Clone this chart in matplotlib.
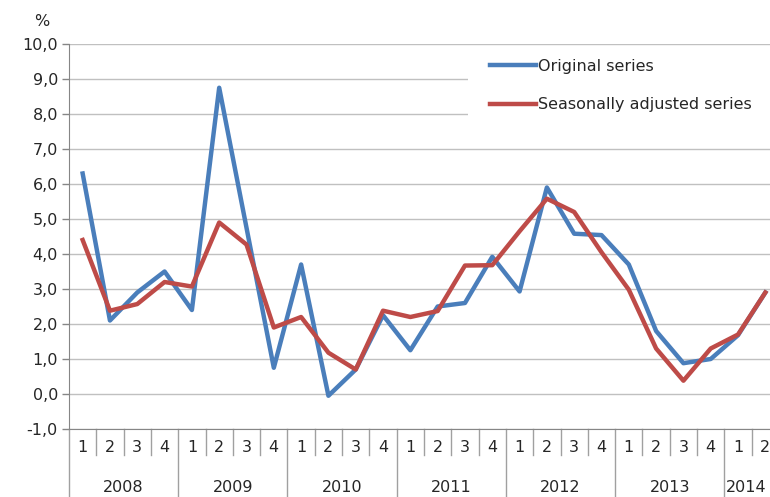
import numpy as np
import matplotlib.pyplot as plt
import matplotlib.transforms as mtransforms
from matplotlib.patches import Rectangle

# Quarterly data 2008Q1 - 2014Q2
years = ['2008', '2009', '2010', '2011', '2012', '2013', '2014']
quarters = [1, 2, 3, 4] * 6 + [1, 2]
original = [6.3, 2.1, 2.9, 3.5,
            2.4, 8.75, 4.75, 0.75,
            3.7, -0.05, 0.7, 2.25,
            1.25, 2.5, 2.6, 3.92,
            2.93, 5.9, 4.58, 4.54,
            3.7, 1.8, 0.88, 1.0,
            1.68, 2.9]
adjusted = [4.4, 2.38, 2.57, 3.2,
            3.07, 4.9, 4.27, 1.9,
            2.2, 1.18, 0.7, 2.38,
            2.2, 2.37, 3.67, 3.68,
            4.65, 5.58, 5.2, 4.05,
            2.98, 1.3, 0.38, 1.3,
            1.7, 2.9]
yticks = np.arange(-1, 10.5, 1.0)

txt_color = '#262626'
fs = 11.5

fig = plt.figure(figsize=(7.7, 4.97), dpi=100)
ax = fig.add_axes([69 / 770, 68 / 497, 710 / 770, 385 / 497])

x = np.arange(len(original))
ax.plot(x, original, color='#4A7EBB', lw=3.2, label='Original series', zorder=3)
ax.plot(x, adjusted, color='#BE4B48', lw=3.2, label='Seasonally adjusted series', zorder=3)

ax.set_xlim(-0.5, len(x) - 0.5)
ax.set_ylim(-1, 10)
ax.set_yticks(yticks)
ax.set_yticklabels([f'{v:.1f}'.replace('.', ',') for v in yticks], fontsize=fs, color=txt_color)
ax.yaxis.grid(True, color='#C0C0C0', lw=1)
ax.set_axisbelow(True)
ax.set_xticks([])
ax.tick_params(axis='y', length=5, color='#868686', width=1, pad=3)

for s in ['top', 'right']:
    ax.spines[s].set_visible(False)
ax.spines['left'].set_color('#868686')
ax.spines['bottom'].set_color('#868686')

# two-level category axis
trans = mtransforms.blended_transform_factory(ax.transData, ax.transAxes)
for k in range(len(x) + 1):
    b = k - 0.5
    bottom = -0.177 if k % 4 == 0 else -0.0675
    ax.plot([b, b], [0, bottom], transform=trans, color='#A0A0A0', lw=1, clip_on=False)
for i, q in enumerate(quarters):
    ax.text(i, -0.049, str(q), transform=trans, ha='center', va='center', fontsize=fs, color=txt_color)
for j, yr in enumerate(years):
    start = j * 4
    end = min(start + 4, len(x))
    xc = (start + end - 1) / 2
    if end - start < 4:
        xc -= 0.2  # partial year sits at the figure edge
    ax.text(xc, -0.153, yr, transform=trans, ha='center', va='center',
            fontsize=fs, color=txt_color)

fig.text(42 / 770, 1 - 21 / 497, '%', ha='center', va='center', fontsize=fs, color=txt_color)

# white legend background hiding the grid
ax.add_patch(Rectangle((0.562, 0.79), 0.5, 0.202, transform=ax.transAxes,
                       facecolor='white', edgecolor='none', zorder=1.5, clip_on=False))
leg = ax.legend(loc='upper left', bbox_to_anchor=(490 / 770, 1 - 59 / 497), bbox_transform=fig.transFigure,
                frameon=False, fontsize=11.5, handlelength=2.9, handletextpad=0.1, labelspacing=1.45,
                borderpad=0, borderaxespad=0)
for t in leg.get_texts():
    t.set_color(txt_color)
for h in leg.get_lines():
    h.set_linewidth(3.2)

fig.savefig('out.png', dpi=100)
